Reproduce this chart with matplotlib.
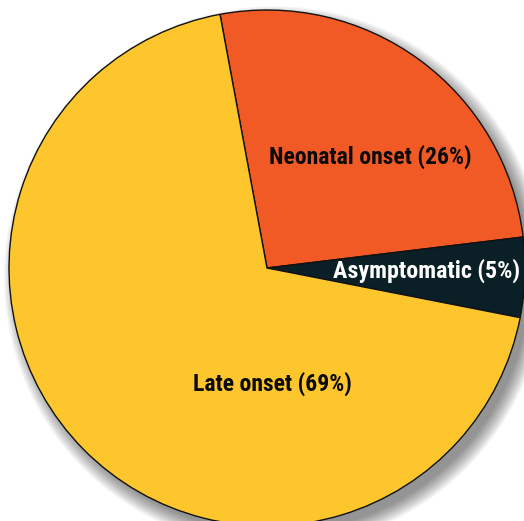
import matplotlib.pyplot as plt
from matplotlib.patches import Circle
from matplotlib import font_manager

labels = ['Neonatal onset (26%)', 'Asymptomatic (5%)', 'Late onset (69%)']
shares = [26, 5, 69]
colors = ['#F15A24', '#0A1F26', '#FCC62C']
text_colors = ['#0A0A0A', '#FFFFFF', '#0A0A0A']
# label positions in data units (radius = 1)
label_xy = [(0.40, 0.43), (0.62, -0.01), (0.02, -0.45)]
label_px_width = [203, 187, 159]

names = {f.name for f in font_manager.fontManager.ttflist}
family = 'Roboto'
for cand in ['Roboto Condensed', 'Liberation Sans Narrow', 'Arial Narrow']:
    if cand in names:
        family = cand
        break

W, H, R = 524, 521, 258.0
cx, cy = 267, 268

fig = plt.figure(figsize=(W / 100, H / 100), dpi=100)
ax = fig.add_axes([0, 0, 1, 1])

# soft drop shadow, lower right
for i in range(16):
    ax.add_patch(Circle((0.03, -0.035), 0.99 + 0.004 * i, color='#000000',
                        alpha=0.03, lw=0, zorder=0))

ax.pie(shares, colors=colors, startangle=100.5, counterclock=False, radius=1.0,
       wedgeprops=dict(edgecolor='#111111', linewidth=1.0), frame=True)
ax.set_xlim(-cx / R, (W - cx) / R)
ax.set_ylim(-(H - cy) / R, cy / R)
ax.set_aspect('equal')
ax.axis('off')

renderer = fig.canvas.get_renderer()
for lab, (x, y), tc, wpx in zip(labels, label_xy, text_colors, label_px_width):
    t = ax.text(x, y, lab, ha='center', va='center', color=tc, fontsize=15,
                fontweight='bold', family=family)
    w = t.get_window_extent(renderer).width
    t.set_fontsize(15 * wpx / w)

fig.savefig('out.png', dpi=100)
